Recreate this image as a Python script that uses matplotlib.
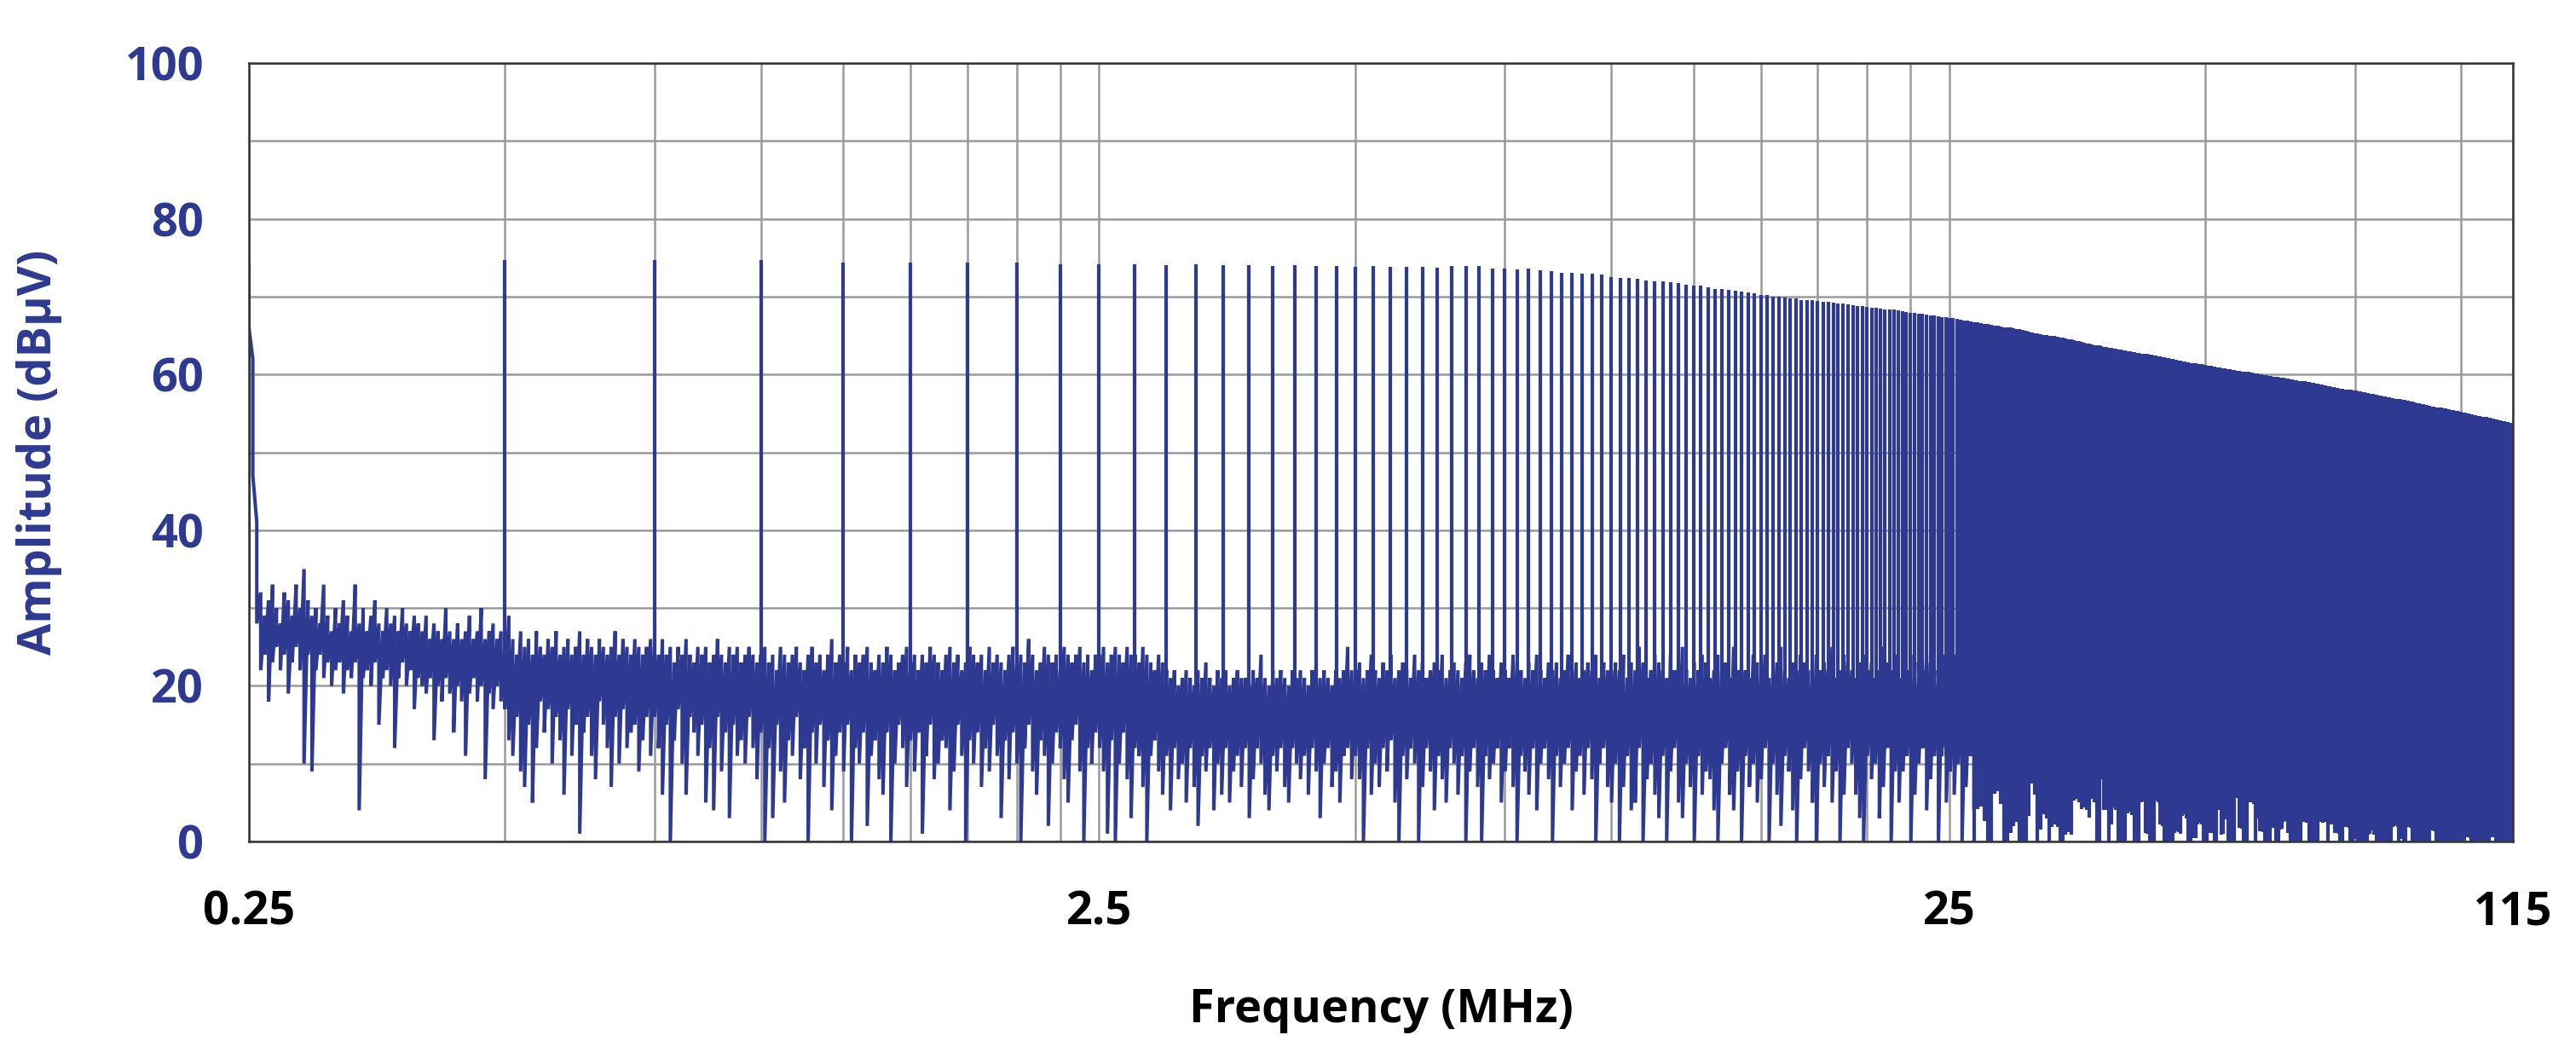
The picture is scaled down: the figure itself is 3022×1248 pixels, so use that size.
import numpy as np
import matplotlib.pyplot as plt
from matplotlib.ticker import FixedLocator, NullFormatter

BLUE = '#2e3991'
GRID = '#9a9a9a'
FONT = 'Open Sans'

# harmonics of the 250 kHz fundamental, 0.25 ... 115 MHz
harmonic_mhz = 0.25 * np.arange(1, 461)

# peak level of each harmonic (dBuV)
peak_dbuv = [
    74.3, 74.7, 74.7, 74.7, 74.4, 74.4, 74.4, 74.4, 74.2, 74.1,
    74.1, 74.0, 74.1, 74.0, 74.0, 73.9, 74.0, 73.9, 73.9, 73.8,
    73.9, 73.8, 73.8, 73.8, 73.7, 73.9, 73.9, 73.9, 73.6, 73.6,
    73.5, 73.6, 73.4, 73.3, 73.1, 73.1, 73.0, 72.9, 72.8, 72.5,
    72.4, 72.4, 72.3, 72.1, 72.0, 72.0, 71.8, 71.7, 71.5, 71.4,
    71.4, 71.2, 71.0, 71.0, 70.9, 70.8, 70.6, 70.5, 70.4, 70.2,
    70.2, 70.0, 70.0, 69.9, 69.8, 69.8, 69.6, 69.6, 69.5, 69.4,
    69.3, 69.3, 69.2, 69.1, 69.1, 69.0, 68.9, 68.8, 68.8, 68.7,
    68.6, 68.6, 68.5, 68.4, 68.4, 68.3, 68.2, 68.1, 68.0, 67.9,
    67.9, 67.8, 67.8, 67.7, 67.6, 67.6, 67.5, 67.4, 67.4, 67.3,
    67.2, 67.1, 67.0, 66.9, 66.9, 66.8, 66.7, 66.7, 66.6, 66.5,
    66.5, 66.4, 66.3, 66.3, 66.2, 66.1, 66.0, 66.0, 65.9, 65.8,
    65.8, 65.7, 65.6, 65.5, 65.4, 65.3, 65.3, 65.2, 65.1, 65.1,
    65.0, 64.9, 64.9, 64.8, 64.7, 64.7, 64.6, 64.5, 64.5, 64.4,
    64.3, 64.3, 64.2, 64.1, 64.0, 64.0, 63.9, 63.8, 63.8, 63.7,
    63.6, 63.5, 63.5, 63.4, 63.4, 63.3, 63.3, 63.2, 63.2, 63.1,
    63.1, 63.0, 63.0, 62.9, 62.9, 62.8, 62.8, 62.7, 62.7, 62.6,
    62.6, 62.5, 62.5, 62.4, 62.4, 62.3, 62.3, 62.2, 62.2, 62.1,
    62.1, 62.0, 62.0, 61.9, 61.9, 61.8, 61.8, 61.7, 61.7, 61.6,
    61.6, 61.5, 61.5, 61.4, 61.4, 61.3, 61.3, 61.3, 61.2, 61.2,
    61.1, 61.1, 61.1, 61.0, 61.0, 60.9, 60.9, 60.9, 60.8, 60.8,
    60.8, 60.7, 60.7, 60.7, 60.6, 60.6, 60.5, 60.5, 60.5, 60.4,
    60.4, 60.4, 60.3, 60.3, 60.3, 60.2, 60.2, 60.1, 60.1, 60.1,
    60.0, 60.0, 60.0, 59.9, 59.9, 59.9, 59.8, 59.8, 59.8, 59.7,
    59.7, 59.7, 59.7, 59.6, 59.6, 59.6, 59.6, 59.5, 59.5, 59.5,
    59.4, 59.4, 59.4, 59.3, 59.3, 59.3, 59.2, 59.2, 59.2, 59.1,
    59.1, 59.1, 59.0, 59.0, 59.0, 58.9, 58.9, 58.9, 58.8, 58.8,
    58.8, 58.7, 58.7, 58.7, 58.6, 58.6, 58.6, 58.5, 58.5, 58.5,
    58.4, 58.4, 58.4, 58.3, 58.3, 58.3, 58.2, 58.2, 58.2, 58.2,
    58.1, 58.1, 58.1, 58.0, 58.0, 58.0, 58.0, 57.9, 57.9, 57.9,
    57.9, 57.8, 57.8, 57.8, 57.7, 57.7, 57.7, 57.7, 57.6, 57.6,
    57.6, 57.5, 57.5, 57.5, 57.5, 57.4, 57.4, 57.4, 57.3, 57.3,
    57.3, 57.3, 57.2, 57.2, 57.2, 57.1, 57.1, 57.1, 57.1, 57.0,
    57.0, 57.0, 56.9, 56.9, 56.9, 56.9, 56.8, 56.8, 56.8, 56.7,
    56.7, 56.7, 56.7, 56.6, 56.6, 56.6, 56.5, 56.5, 56.5, 56.5,
    56.4, 56.4, 56.4, 56.3, 56.3, 56.3, 56.3, 56.2, 56.2, 56.2,
    56.2, 56.1, 56.1, 56.1, 56.0, 56.0, 56.0, 55.9, 55.9, 55.9,
    55.9, 55.8, 55.8, 55.8, 55.8, 55.7, 55.7, 55.7, 55.7, 55.6,
    55.6, 55.6, 55.6, 55.5, 55.5, 55.5, 55.5, 55.4, 55.4, 55.4,
    55.4, 55.3, 55.3, 55.3, 55.3, 55.3, 55.2, 55.2, 55.2, 55.2,
    55.1, 55.1, 55.1, 55.1, 55.0, 55.0, 55.0, 55.0, 54.9, 54.9,
    54.9, 54.9, 54.8, 54.8, 54.8, 54.8, 54.7, 54.7, 54.7, 54.7,
    54.6, 54.6, 54.6, 54.6, 54.5, 54.5, 54.5, 54.5, 54.4, 54.4,
    54.4, 54.4, 54.3, 54.3, 54.3, 54.3, 54.2, 54.2, 54.2, 54.2,
    54.1, 54.1, 54.1, 54.1, 54.0, 54.0, 54.0, 54.0, 54.0, 53.9,
    53.9, 53.9, 53.9, 53.9, 53.8, 53.8, 53.8, 53.8, 53.8, 53.8,
]

# lowest level the trace reaches next to each harmonic (dBuV)
floor_dbuv = [
    30, 20, 16, 16, 16, 16, 16, 16, 16, 16,
    14, 14, 14, 14, 14, 14, 14, 14, 14, 14,
    14, 14, 14, 14, 14, 14, 14, 14, 14, 14,
    14, 14, 14, 14, 14, 14, 14, 14, 14, 14,
    14, 14, 14, 14, 14, 14, 14, 14, 14, 14,
    13, 13, 13, 13, 13, 13, 13, 13, 13, 13,
    13, 13, 13, 13, 13, 13, 13, 13, 13, 13,
    12, 12, 12, 12, 12, 12, 12, 12, 12, 12,
    12, 12, 12, 12, 12, 12, 12, 12, 12, 12,
    12, 12, 12, 12, 11, 11, 11, 11, 11, 11,
    11, 11, 11, 11, 11, 11, 0, 4.2, 4.5, 2.6,
    0, 0, 6.1, 6.5, 4.8, 0, 0, 1.1, 2.0, 2.5,
    0, 0, 0, 3.3, 7.4, 6.0, 0, 1.5, 3.5, 3.0,
    0, 1.9, 2.2, 1.9, 0, 0, 0.9, 1.2, 0.9, 5.3,
    5.5, 5.0, 4.2, 4.4, 4.0, 3.1, 5.5, 5.0, 0, 0,
    8.0, 4.1, 4.0, 0, 2.2, 4.4, 4.0, 0, 0, 0,
    0, 3.6, 3.8, 3.4, 0, 0, 0, 5.0, 5.2, 1.1,
    1.0, 0, 0, 0, 5.3, 5.0, 2.2, 2.0, 0, 0,
    0, 0, 0, 1.1, 1.3, 1.2, 1.0, 3.3, 3.5, 3.0,
    0, 0, 0.4, 0.5, 0.4, 2.2, 2.4, 2.2, 0, 0,
    0, 1.1, 1.2, 1.1, 0, 0, 4.2, 4.0, 0.9, 1.0,
    3.0, 2.8, 0, 0, 0, 0, 5.8, 5.6, 1.7, 1.8,
    1.6, 0, 0, 0, 5.3, 5.0, 5.2, 4.8, 0, 3.0,
    3.2, 1.3, 1.4, 1.2, 0, 0, 0, 0, 1.7, 1.8,
    1.7, 0, 0, 0, 1.5, 1.6, 2.5, 2.6, 2.8, 1.1,
    1.2, 0, 0, 0, 0, 0, 0, 0, 0, 2.5,
    2.6, 2.5, 2.4, 2.5, 0, 0, 0, 0, 0, 0,
    0, 2.5, 2.6, 2.5, 2.4, 2.5, 2.6, 2.5, 0, 2.2,
    2.3, 2.2, 2.2, 1.1, 1.2, 1.1, 1.0, 0, 0, 0,
    1.9, 2.0, 1.9, 1.9, 1.8, 0, 0, 0, 0.3, 0.4,
    0.3, 0, 0, 0, 0, 0, 0, 0, 0, 0,
    0.9, 1.0, 1.4, 1.5, 1.4, 0.9, 0.9, 0, 0, 0,
    0, 0, 0, 0, 0, 0, 0, 0, 0, 0,
    0, 1.9, 2.0, 2.2, 2.2, 2.1, 1.9, 0, 0.3, 0.4,
    0.3, 0, 0, 0, 1.9, 2.0, 1.9, 1.9, 1.8, 0,
    0, 0, 0, 0, 0, 0, 0, 0, 0, 0,
    0, 0, 0, 0, 0, 0, 0, 1.4, 1.5, 1.4,
    1.4, 1.3, 1.4, 0, 0, 0, 0, 0, 0, 0,
    0, 0, 0, 0, 0, 0, 0, 0, 0, 0,
    0, 0, 0, 0, 0, 0, 0, 0, 0, 0,
    0, 0, 0, 0.5, 0.5, 0.6, 0.5, 0.5, 0.5, 0.4,
    0, 0, 0, 0, 0, 0, 0, 0, 0, 0,
    0, 0, 0, 0, 0, 0, 0, 0, 0, 0,
    0, 0.6, 0.6, 0.7, 0.6, 0.6, 0.6, 0.5, 0, 0,
    0, 0, 0, 0, 0, 0, 0, 0, 0, 0,
    0, 0, 0, 0, 0, 0, 0, 0, 0, 0,
]

# noise floor between the harmonics: max / min of each display bin (dBuV),
# log-spaced bins from 0.25 to 27 MHz (first bins carry the fundamental's skirt)
noise_max_dbuv = [
    74, 62, 41, 32, 29, 31, 33, 30, 28, 32, 31, 29, 33, 30, 35, 31, 29,
    30, 28, 33, 29, 27, 30, 28, 31, 29, 27, 33, 28, 30, 27, 29, 31, 28, 27, 30, 28, 29, 27,
    30, 28, 27, 29, 28,
    27, 29, 26, 28, 27, 26, 30, 27, 26, 28, 26, 27, 29, 26, 27, 30, 26, 27, 28, 26, 27,
    25, 29, 26, 24, 27, 25, 26, 24, 27, 25, 24, 26, 25, 27, 24, 25, 26, 24, 25, 27,
    24, 26, 25, 24, 26, 25, 24, 25, 27, 24, 26, 25, 24, 26, 25, 24, 25, 26,
    25, 24, 26, 24, 25, 23, 25, 24, 26, 24, 23, 25, 24, 25, 23, 24, 26, 24, 23, 25,
    24, 25, 23, 24, 25, 24, 23,
    24, 25, 23, 24, 22, 25, 24, 23, 24, 25, 23, 22, 24, 25, 23, 24, 22, 24, 26, 23,
    24, 23, 25, 22, 24, 23, 24, 25, 23, 22, 24, 23, 25, 24, 22, 23, 24, 25, 23, 24,
    22, 24, 23, 25, 24, 23, 22, 24, 25, 23, 24, 22, 23, 25, 24, 23, 24, 22, 25, 23,
    24, 23, 22, 24, 25, 23, 24, 23, 26, 24, 22, 23, 25, 24, 23, 24, 22, 25, 24, 23,
    24, 25, 23, 24, 22, 24,
    24, 25, 23, 24, 25, 24, 23, 25, 24, 24, 23, 25, 24, 23, 22, 24, 23,
    22, 21, 22, 20, 21, 22, 21, 20, 22, 21, 23, 21, 20, 22, 21, 22, 20, 21, 22, 21,
    21, 20, 22, 21, 24, 21, 20, 22, 21, 22, 21, 20, 22, 21, 22, 21, 20, 22, 23, 21,
    22, 21, 20, 22, 21, 22, 25, 22,
    22, 23, 21, 22, 24, 22, 21, 23, 22, 24, 21, 22, 23, 22, 21, 24, 22, 23, 21, 22,
    23, 22, 24, 21, 22, 23, 22, 21, 23, 24, 22, 21, 23, 22, 24, 22, 21, 23, 22, 21,
    24, 23, 22, 21, 23, 22, 24, 22, 21, 23, 22, 23, 21, 22, 24, 22, 23, 21, 22, 23,
    22, 24, 21, 23, 22, 22,
    23, 22, 24, 21, 23, 22, 25, 23, 21, 22, 24, 23, 22, 21, 24, 22, 23, 25, 22, 21,
    23, 22, 24, 23, 21, 22, 24, 22, 23, 21, 25, 22, 23, 22, 21, 24, 23, 22, 24, 21,
    22, 23, 25, 22, 21, 23, 22, 24, 23, 22, 21, 24, 22, 23, 22, 25, 21, 22, 24, 23,
    22, 21, 23, 24, 22, 23, 21, 22, 25, 23, 22, 24, 21, 23, 22, 24, 23, 21, 22, 24,
    23, 22, 21, 24, 23, 22, 24, 21, 23, 22, 21, 23, 22,
]
noise_min_dbuv = [
    66, 47, 28, 22, 24, 18, 23, 25, 22, 24, 19, 23, 25, 22, 10, 24, 9,
    22, 24, 21, 23, 20, 22, 23, 19, 22, 21, 23, 4, 21, 22, 20, 23, 15, 21, 22, 20, 12, 21,
    23, 20, 22, 17, 21,
    20, 19, 21, 13, 20, 18, 21, 19, 14, 20, 18, 11, 19, 21, 18, 20, 8, 19, 17, 20, 18,
    17, 13, 11, 16, 9, 7, 15, 5, 12, 18, 14, 17, 10, 16, 13, 6, 17, 11, 15, 1,
    14, 16, 11, 8, 18, 15, 12, 7, 16, 10, 17, 12, 14, 15, 9, 13, 16, 11,
    16, 12, 6, 15, 0, 13, 17, 10, 6, 16, 14, 11, 15, 5, 12, 4, 16, 9, 14, 3,
    15, 11, 13, 10, 16, 12, 8,
    14, 0, 12, 3, 15, 9, 5, 13, 11, 16, 8, 12, 0, 14, 10, 15, 7, 13, 4, 11,
    14, 9, 15, 0, 12, 10, 14, 2, 11, 13, 8, 6, 14, 0, 10, 15, 12, 7, 13, 9,
    14, 1, 11, 15, 8, 10, 13, 12, 4, 9, 15, 11, 0, 13, 10, 14, 7, 12, 9, 15,
    11, 3, 13, 8, 14, 10, 0, 12, 15, 9, 6, 13, 11, 2, 10, 14, 12, 8, 5, 13,
    15, 9, 0, 12, 10, 14,
    12, 9, 1, 13, 0, 10, 14, 8, 3, 12, 11, 7, 0, 11, 13, 9, 6,
    11, 4, 12, 8, 10, 5, 12, 7, 2, 11, 9, 12, 4, 10, 6, 12, 5, 9, 11, 7,
    12, 3, 8, 12, 10, 6, 4, 11, 9, 12, 7, 5, 12, 10, 8, 11, 6, 12, 9, 3,
    10, 12, 7, 9, 5, 11, 12, 8,
    11, 8, 0, 12, 6, 10, 7, 12, 9, 13, 5, 0, 11, 8, 12, 10, 0, 7, 12, 9,
    4, 11, 8, 5, 12, 10, 6, 11, 0, 9, 12, 7, 0, 11, 8, 10, 12, 5, 9, 12,
    7, 0, 11, 9, 6, 12, 4, 10, 12, 8, 0, 11, 7, 10, 12, 4, 9, 11, 6, 12,
    8, 0, 10, 12, 7, 5,
    10, 0, 7, 11, 4, 5, 12, 0, 8, 10, 6, 3, 11, 0, 9, 12, 5, 3, 10, 7,
    0, 11, 6, 9, 8, 4, 0, 10, 12, 6, 4, 9, 0, 11, 7, 10, 5, 8, 12, 0,
    10, 6, 2, 11, 9, 4, 0, 8, 12, 9, 5, 0, 10, 7, 11, 5, 9, 0, 6, 12,
    10, 6, 3, 0, 11, 8, 10, 3, 7, 12, 0, 9, 5, 9, 11, 0, 6, 10, 12, 4,
    8, 11, 0, 12, 5, 9, 6, 10, 0, 7, 11, 4, 8,
]
noise_mhz = np.geomspace(0.25, 27.0, len(noise_max_dbuv))

x_ticks = [0.25, 2.5, 25, 115]
x_ticklabels = ['0.25', '2.5', '25', '115']
x_gridlines = [0.5, 0.75, 1.0, 1.25, 1.5, 1.75, 2.0, 2.25, 2.5,
               5, 7.5, 10, 12.5, 15, 17.5, 20, 22.5, 25, 50, 75, 100]
y_ticks = [0, 20, 40, 60, 80, 100]
y_gridlines = [10, 30, 50, 70, 90]

fig = plt.figure(figsize=(30.22, 12.48), dpi=100)
ax = fig.add_axes([292 / 3022, 1 - 987 / 1248, 2656 / 3022, 913 / 1248])

# trace visits the max and min of every bin in turn
trace_x = np.repeat(noise_mhz, 2)
trace_y = np.column_stack([noise_max_dbuv, noise_min_dbuv]).ravel()
ax.plot(trace_x, trace_y, color=BLUE, lw=2.9, solid_joinstyle='miter')
ax.vlines(harmonic_mhz, floor_dbuv, peak_dbuv, colors=BLUE, lw=3.0)

ax.set_xscale('log')
ax.set_xlim(0.25, 115)
ax.set_ylim(0, 100)

ax.xaxis.set_major_locator(FixedLocator(x_ticks))
ax.xaxis.set_minor_locator(FixedLocator(x_gridlines))
ax.xaxis.set_minor_formatter(NullFormatter())
ax.set_xticklabels(x_ticklabels)
ax.yaxis.set_major_locator(FixedLocator(y_ticks))
ax.yaxis.set_minor_locator(FixedLocator(y_gridlines))

ax.set_axisbelow(True)
ax.grid(which='both', color=GRID, lw=1.8)
ax.tick_params(which='both', length=0)
ax.tick_params(axis='x', pad=41, labelsize=39, labelcolor='black')
ax.tick_params(axis='y', pad=38, labelsize=39, labelcolor=BLUE)
for lab in ax.get_xticklabels() + ax.get_yticklabels():
    lab.set_fontfamily(FONT)
    lab.set_fontweight('bold')

for sp in ax.spines.values():
    sp.set_color('#333333')
    sp.set_linewidth(1.8)

fig.text(1620 / 3022, 1 - 1199 / 1248, 'Frequency (MHz)', ha='center', va='baseline',
         fontsize=39, fontweight='bold', family=FONT, color='black')
fig.text(46 / 3022, 1 - 530 / 1248, 'Amplitude (dBµV)', ha='center', va='center',
         rotation=90, fontsize=39, fontweight='bold', family=FONT, color=BLUE)

fig.savefig('out.png', dpi=100)
